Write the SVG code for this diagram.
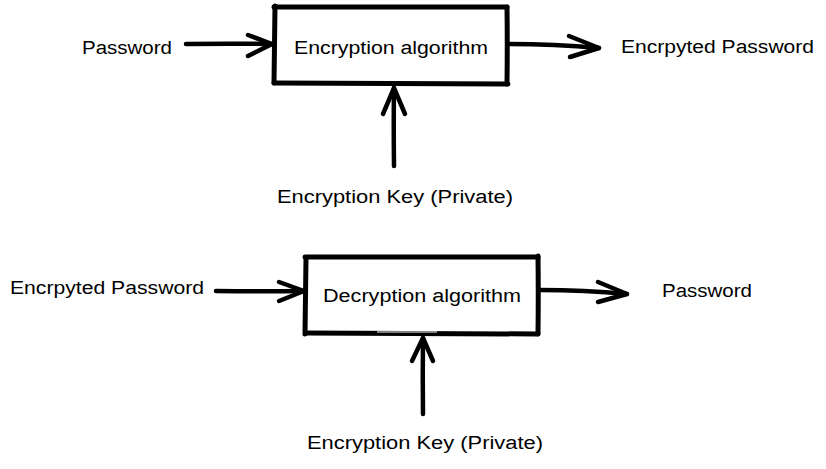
<svg xmlns="http://www.w3.org/2000/svg" width="826" height="469" viewBox="0 0 826 469">
<style>
.bg{fill:#ffffff}
.edge{fill:none;stroke:#000;stroke-width:5;stroke-linecap:round;stroke-linejoin:round}
.box{fill:#ffffff;stroke:none}
.line{fill:none;stroke:#000;stroke-width:4.5;stroke-linecap:round;stroke-linejoin:round}
.lbl{font-family:"Liberation Sans","DejaVu Sans",sans-serif;font-size:18px;fill:#000}
</style>
<rect class="bg" x="0" y="0" width="826" height="469"/>
<g id="connectors">
  <path class="line" d="M186 44 Q230 43.5 272 44"/>
  <path class="line" d="M248 35 L272 44 L248 56"/>
  <path class="line" d="M508 44 Q555 44 599 48"/>
  <path class="line" d="M569 36 L599 48 L570 57"/>
  <path class="line" d="M394 166 Q393.5 125 394 88"/>
  <path class="line" d="M383 114 L394 88 L405 114"/>
  <path class="line" d="M216 291 Q260 291.5 304 291"/>
  <path class="line" d="M279 282 L304 291 L279 301"/>
  <path class="line" d="M539 290 Q585 290 627 294"/>
  <path class="line" d="M598 282 L627 294 L598 302"/>
  <path class="line" d="M423 414 Q422.5 375 423 338"/>
  <path class="line" d="M412 361 L423 338 L433 361"/>
</g>
<g id="node-password-in">
  <text class="lbl" x="82" y="54" textLength="90" lengthAdjust="spacingAndGlyphs">Password</text>
</g>
<g id="node-encryption">
  <rect class="box" x="275" y="8" width="231" height="75"/>
  <path class="edge" d="M274 7 Q390 6.5 507 7"/>
  <path class="edge" d="M507 7 Q507.5 45 507 84"/>
  <path class="edge" d="M508 84 Q390 83 274 83"/>
  <path class="edge" d="M274 83 Q274.5 45 275 6"/>
  <text class="lbl" x="294" y="54" textLength="194" lengthAdjust="spacingAndGlyphs">Encryption algorithm</text>
</g>
<g id="node-encrypted-out">
  <text class="lbl" x="621" y="53" textLength="193" lengthAdjust="spacingAndGlyphs">Encrpyted Password</text>
</g>
<g id="node-key-1">
  <text class="lbl" x="277" y="203" textLength="236" lengthAdjust="spacingAndGlyphs">Encryption Key (Private)</text>
</g>
<g id="node-encrypted-in">
  <text class="lbl" x="10" y="294" textLength="194" lengthAdjust="spacingAndGlyphs">Encrpyted Password</text>
</g>
<g id="node-decryption">
  <rect class="box" x="306" y="258" width="231" height="75"/>
  <path class="edge" d="M305 257 Q420 256.5 538 257"/>
  <path class="edge" d="M538 256 Q538.5 295 538 334"/>
  <path class="edge" d="M538 334 Q420 333.5 306 333"/>
  <path class="edge" d="M305 334 Q305.5 295 306 258"/>
  <path d="M377 332 L437 332" stroke="#ffffff" stroke-width="1.2" fill="none"/>
  <text class="lbl" x="323" y="302" textLength="198" lengthAdjust="spacingAndGlyphs">Decryption algorithm</text>
</g>
<g id="node-password-out">
  <text class="lbl" x="662" y="297" textLength="90" lengthAdjust="spacingAndGlyphs">Password</text>
</g>
<g id="node-key-2">
  <text class="lbl" x="307" y="449" textLength="236" lengthAdjust="spacingAndGlyphs">Encryption Key (Private)</text>
</g>
</svg>
